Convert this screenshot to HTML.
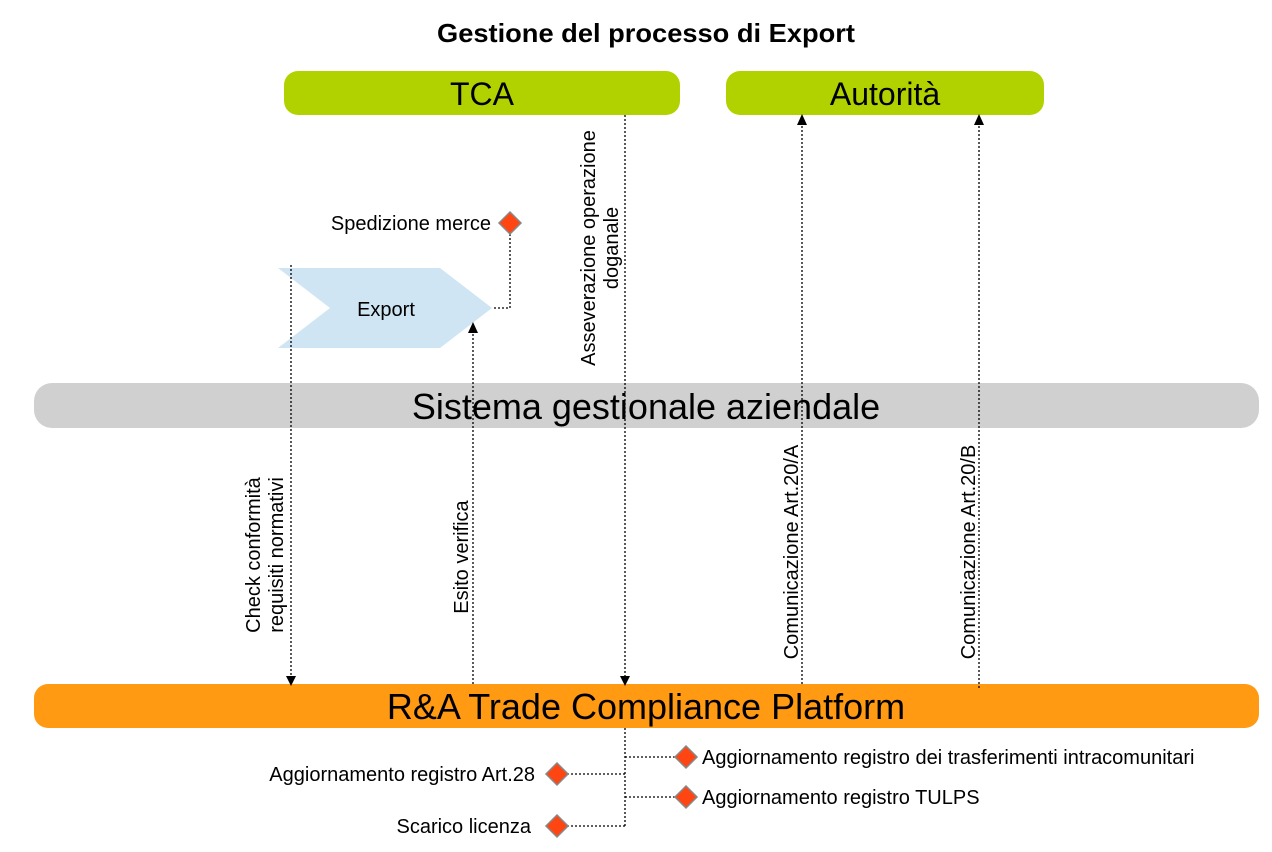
<!DOCTYPE html>
<html><head><meta charset="utf-8"><style>
html,body{margin:0;padding:0;background:#fff;}
svg{display:block;font-family:"Liberation Sans",sans-serif;}
</style></head><body>
<svg width="1272" height="852" viewBox="0 0 1272 852" xmlns="http://www.w3.org/2000/svg">
<text x="646" y="42" text-anchor="middle" font-size="26" font-weight="bold" textLength="418" lengthAdjust="spacingAndGlyphs">Gestione del processo di Export</text>
<rect x="284" y="71" width="396" height="44" rx="14" fill="#b2d200"/>
<text x="482" y="105" text-anchor="middle" font-size="32">TCA</text>
<rect x="726" y="71" width="318" height="44" rx="14" fill="#b2d200"/>
<text x="885" y="105" text-anchor="middle" font-size="32">Autorità</text>
<rect x="34" y="383" width="1225" height="45" rx="18" fill="#d0d0d0"/>
<text x="646" y="419" text-anchor="middle" font-size="36">Sistema gestionale aziendale</text>
<rect x="34" y="684" width="1225" height="44" rx="14" fill="#ff9a12"/>
<text x="646" y="719" text-anchor="middle" font-size="36">R&amp;A Trade Compliance Platform</text>
<polygon points="278,268 440,268 492,308 440,348 278,348 330,308" fill="#cfe5f3"/>
<text x="386" y="316" text-anchor="middle" font-size="20">Export</text>
<g stroke="#000" stroke-width="1.3" stroke-dasharray="2,2" fill="none">
<polyline points="510,234 510,308 492,308"/>
<line x1="291" y1="265" x2="291" y2="684"/>
<line x1="473" y1="684" x2="473" y2="324"/>
<line x1="625" y1="115" x2="625" y2="684"/>
<line x1="802" y1="684" x2="802" y2="117"/>
<line x1="979" y1="688" x2="979" y2="117"/>
<line x1="625" y1="728" x2="625" y2="826"/>
<line x1="625" y1="757" x2="675" y2="757"/>
<line x1="625" y1="797" x2="675" y2="797"/>
<line x1="625" y1="774" x2="568" y2="774"/>
<line x1="625" y1="826" x2="568" y2="826"/>
</g>
<g fill="#000">
<polygon points="286,676 296,676 291,686"/>
<polygon points="468,333 478,333 473,322"/>
<polygon points="620,676 630,676 625,686"/>
<polygon points="797,125 807,125 802,114"/>
<polygon points="974,125 984,125 979,114"/>
</g>
<g fill="#ff4612" stroke="#888" stroke-width="1.5">
<polygon points="510,212 521,223 510,234 499,223"/>
<polygon points="686,746 697,757 686,768 675,757"/>
<polygon points="686,786 697,797 686,808 675,797"/>
<polygon points="557,763 568,774 557,785 546,774"/>
<polygon points="557,815 568,826 557,837 546,826"/>
</g>
<g font-size="20">
<text x="491" y="230" text-anchor="end">Spedizione merce</text>
<text x="702" y="764">Aggiornamento registro dei trasferimenti intracomunitari</text>
<text x="702" y="804">Aggiornamento registro TULPS</text>
<text x="535" y="781" text-anchor="end">Aggiornamento registro Art.28</text>
<text x="531" y="833" text-anchor="end">Scarico licenza</text>
<text transform="translate(260,555) rotate(-90)" text-anchor="middle">Check conformità</text>
<text transform="translate(283,555) rotate(-90)" text-anchor="middle">requisiti normativi</text>
<text transform="translate(468,557) rotate(-90)" text-anchor="middle">Esito verifica</text>
<text transform="translate(595,248) rotate(-90)" text-anchor="middle">Asseverazione operazione</text>
<text transform="translate(618,248) rotate(-90)" text-anchor="middle">doganale</text>
<text transform="translate(798,552) rotate(-90)" text-anchor="middle">Comunicazione Art.20/A</text>
<text transform="translate(975,552) rotate(-90)" text-anchor="middle">Comunicazione Art.20/B</text>
</g>
</svg>
</body></html>
